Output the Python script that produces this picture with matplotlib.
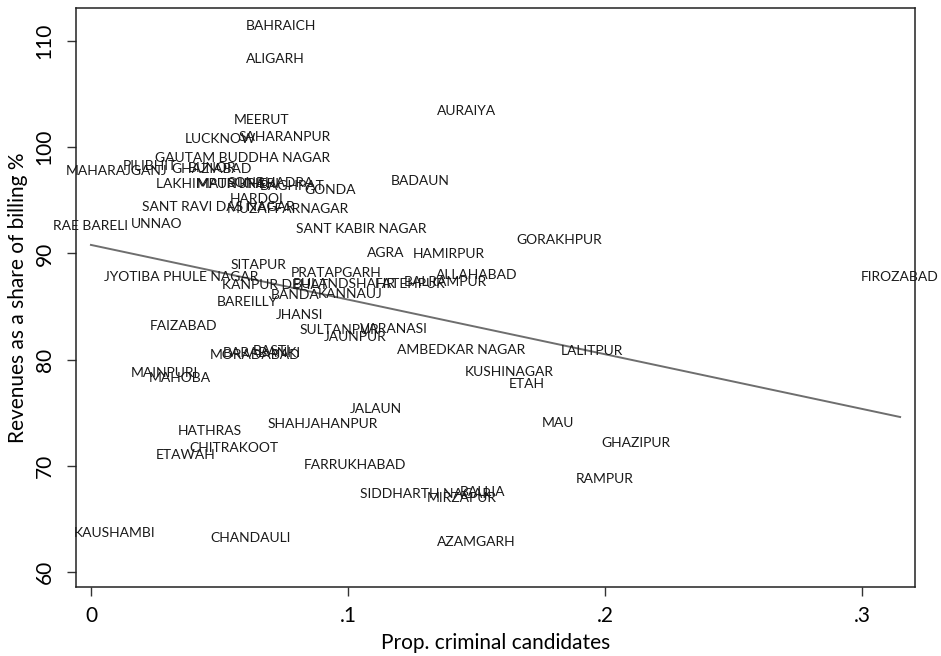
import numpy as np
import matplotlib.pyplot as plt

# district labels, share of criminal candidates, revenue as % of billing
districts = [
    "BAHRAICH", "ALIGARH", "MEERUT", "AURAIYA", "LUCKNOW", "SAHARANPUR",
    "GAUTAM BUDDHA NAGAR", "MAHARAJGANJ", "PILIBHIT", "GHAZIABAD", "BIJNOR",
    "LAKHIMPUR KHERI", "MATHURA", "SONBHADRA", "BAGHPAT", "GONDA", "BADAUN",
    "HARDOI", "SANT RAVI DAS NAGAR", "MUZAFFARNAGAR", "RAE BARELI", "UNNAO",
    "SANT KABIR NAGAR", "GORAKHPUR", "AGRA", "HAMIRPUR", "SITAPUR",
    "PRATAPGARH", "JYOTIBA PHULE NAGAR", "ALLAHABAD", "BALRAMPUR", "FATEHPUR",
    "BULANDSHAHR", "KANPUR DEHAT", "BANDA", "KANNAUJ", "BAREILLY", "FIROZABAD",
    "JHANSI", "FAIZABAD", "SULTANPUR", "VARANASI", "JAUNPUR", "AMBEDKAR NAGAR",
    "LALITPUR", "BASTI", "BARABANKI", "MORADABAD", "KUSHINAGAR", "MAINPURI",
    "MAHOBA", "ETAH", "JALAUN", "SHAHJAHANPUR", "MAU", "HATHRAS", "GHAZIPUR",
    "CHITRAKOOT", "ETAWAH", "FARRUKHABAD", "RAMPUR", "SIDDHARTH NAGAR",
    "BALLIA", "MIRZAPUR", "KAUSHAMBI", "CHANDAULI", "AZAMGARH",
]
prop_criminal = [
    0.0739, 0.0716, 0.0665, 0.1463, 0.0502, 0.0755,
    0.0588, 0.0101, 0.0230, 0.0470, 0.0470,
    0.0494, 0.0545, 0.0700, 0.0782, 0.0930, 0.1280,
    0.0646, 0.0494, 0.0767, 0.0000, 0.0257,
    0.1050, 0.1820, 0.1148, 0.1393, 0.0650,
    0.0953, 0.0350, 0.1500, 0.1380, 0.1240,
    0.0984, 0.0716, 0.0794, 0.1008, 0.0607, 0.3148,
    0.0810, 0.0362, 0.0965, 0.1180, 0.1027, 0.1440,
    0.1950, 0.0705, 0.0665, 0.0638, 0.1626, 0.0284,
    0.0346, 0.1696, 0.1110, 0.0903, 0.1817, 0.0463, 0.2120,
    0.0556, 0.0370, 0.1027, 0.2000, 0.1300,
    0.1525, 0.1444, 0.0093, 0.0620, 0.1500,
]
revenue_share = [
    111.4, 108.3, 102.6, 103.4, 100.8, 101.0,
    99.0, 97.8, 98.2, 97.9, 98.0,
    96.5, 96.5, 96.6, 96.3, 96.0, 96.8,
    95.1, 94.4, 94.2, 92.6, 92.8,
    92.3, 91.3, 90.0, 89.9, 88.9,
    88.2, 87.8, 88.0, 87.3, 87.1,
    87.1, 87.0, 86.1, 86.2, 85.4, 87.8,
    84.2, 83.2, 82.8, 82.9, 82.1, 80.9,
    80.8, 80.8, 80.6, 80.4, 78.8, 78.7,
    78.3, 77.7, 75.4, 73.9, 74.0, 73.3, 72.2,
    71.7, 71.0, 70.1, 68.8, 67.4,
    67.5, 67.0, 63.7, 63.2, 62.8,
]

# linear fit end points
fit_x = [0.0, 0.3148]
fit_y = [90.8, 74.6]

plt.rcParams['font.family'] = ['Lato', 'DejaVu Sans']

fig = plt.figure(figsize=(9.41, 6.56), dpi=100)
ax = fig.add_axes([0.0808, 0.1052, 0.8916, 0.8826])

for name, x, y in zip(districts, prop_criminal, revenue_share):
    ax.text(x, y, name, ha='center', va='center', fontsize=10, color='#1a1a1a')

ax.plot(fit_x, fit_y, color='#6e6e6e', linewidth=1.4)

ax.set_xlim(-0.0058, 0.3206)
ax.set_ylim(58.6, 113.1)

ax.set_xticks([0, 0.1, 0.2, 0.3])
ax.set_xticklabels(['0', '.1', '.2', '.3'])
ax.set_yticks([60, 70, 80, 90, 100, 110])
ax.set_yticklabels(['60', '70', '80', '90', '100', '110'], rotation=90, va='center')

ax.tick_params(axis='both', direction='out', length=6.5, width=1, labelsize=15, color='#333333')
ax.tick_params(axis='x', pad=7)
ax.tick_params(axis='y', pad=9)
for s in ax.spines.values():
    s.set_color('#222222')
    s.set_linewidth(1.1)

ax.set_xlabel('Prop. criminal candidates', fontsize=15, labelpad=5)
ax.set_ylabel('Revenues as a share of billing %', fontsize=15, labelpad=5)

fig.savefig('out.png', dpi=100)
